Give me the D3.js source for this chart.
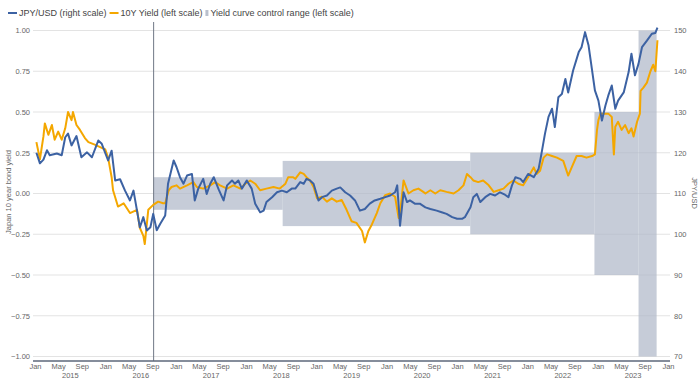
<!DOCTYPE html>
<html>
<head>
<meta charset="utf-8">
<script src="https://cdn.jsdelivr.net/npm/d3@7"></script>
<style>
  body { margin: 0; background: #fff; }
  text { font-family: "Liberation Sans", Arial, sans-serif; }
</style>
</head>
<body>
<div id="chart"></div>
<script>
// JPY/USD, right scale (decimal year, value)
const jpyYears = [2015.02,2015.07,2015.12,2015.17,2015.21,2015.31,2015.38,2015.43,2015.47,2015.52,2015.59,2015.66,2015.74,2015.81,2015.90,2015.95,
  2016.04,2016.09,2016.14,2016.21,2016.28,2016.35,2016.40,2016.45,2016.49,2016.54,2016.59,2016.64,2016.68,2016.73,2016.78,2016.85,2016.89,2016.97,
  2017.01,2017.06,2017.11,2017.16,2017.23,2017.27,2017.32,2017.39,2017.44,2017.49,2017.54,2017.61,2017.68,2017.73,2017.80,2017.84,2017.89,2017.94,
  2018.01,2018.08,2018.13,2018.20,2018.25,2018.29,2018.37,2018.44,2018.51,2018.58,2018.65,2018.70,2018.77,2018.82,2018.86,2018.91,2018.96,
  2019.01,2019.03,2019.08,2019.15,2019.22,2019.29,2019.34,2019.41,2019.48,2019.55,2019.62,2019.69,2019.76,2019.83,2019.91,2019.98,
  2020.05,2020.12,2020.15,2020.19,2020.24,2020.29,2020.33,2020.40,2020.47,2020.55,2020.62,2020.71,2020.78,2020.85,2020.93,
  2021.00,2021.07,2021.11,2021.19,2021.23,2021.28,2021.33,2021.40,2021.47,2021.54,2021.61,2021.68,2021.73,2021.78,2021.83,2021.90,2021.94,
  2022.01,2022.09,2022.16,2022.20,2022.25,2022.30,2022.35,2022.37,2022.39,2022.44,2022.49,2022.54,2022.58,2022.65,2022.73,2022.77,2022.82,2022.87,2022.92,2022.96,
  2023.01,2023.06,2023.11,2023.15,2023.20,2023.25,2023.29,2023.37,2023.44,2023.48,2023.53,2023.58,2023.63,2023.70,2023.77,2023.82,2023.85];
const jpyValues = [120.0,117.4,118.3,120.6,119.4,119.8,119.4,123.8,124.7,121.8,124.1,118.9,120.1,118.9,123.0,122.2,
  118.1,120.5,113.2,113.5,110.7,108.3,110.7,105.8,101.7,104.2,100.9,101.7,105.0,101.0,102.6,104.6,112.4,118.1,
  116.5,114.0,112.4,114.4,114.8,108.3,111.2,113.6,109.9,112.4,114.0,111.0,108.3,112.0,113.2,112.4,113.2,111.2,
  113.2,111.2,107.5,105.4,105.8,107.9,109.1,110.3,110.7,110.3,111.2,111.2,112.8,112.4,113.6,113.2,112.4,
  109.5,108.3,109.1,109.5,110.7,111.2,111.5,110.3,109.5,108.3,105.8,106.2,107.5,108.3,108.7,109.1,
  109.5,110.3,112.0,102.1,110.3,107.9,108.3,107.5,107.5,106.6,106.2,105.8,105.4,105.0,104.2,
  103.8,103.8,104.2,106.6,109.1,109.9,107.9,109.1,109.9,109.5,110.3,109.7,109.1,112.0,114.0,113.6,112.8,
  114.8,114.0,116.1,119.8,124.7,128.8,130.8,128.7,126.3,133.6,134.4,138.1,134.8,140.2,144.7,145.9,149.6,146.3,140.2,135.3,
  132.8,127.9,131.6,134.0,136.5,130.8,132.8,134.8,139.8,144.3,139.0,141.8,145.9,147.5,149.2,149.4,150.7];

// Japan 10Y yield, left scale (decimal year, %)
const yieldYears = [2015.02,2015.07,2015.12,2015.14,2015.19,2015.24,2015.28,2015.33,2015.38,2015.43,2015.47,2015.52,2015.54,2015.59,2015.64,2015.71,2015.76,2015.85,2015.95,
  2016.00,2016.04,2016.09,2016.11,2016.18,2016.26,2016.35,2016.45,2016.49,2016.54,2016.56,2016.61,2016.68,2016.75,2016.82,2016.85,2016.90,2016.94,
  2017.01,2017.06,2017.16,2017.25,2017.30,2017.39,2017.49,2017.56,2017.63,2017.73,2017.82,2017.92,2017.99,
  2018.06,2018.13,2018.20,2018.29,2018.39,2018.48,2018.56,2018.60,2018.67,2018.70,2018.77,2018.82,2018.86,2018.91,2018.96,
  2019.01,2019.08,2019.15,2019.22,2019.29,2019.36,2019.43,2019.50,2019.57,2019.65,2019.69,2019.74,2019.79,2019.86,2019.91,2019.98,
  2020.05,2020.12,2020.17,2020.19,2020.24,2020.31,2020.38,2020.45,2020.52,2020.55,2020.62,2020.69,2020.76,2020.85,2020.95,
  2021.02,2021.09,2021.14,2021.19,2021.23,2021.30,2021.37,2021.45,2021.52,2021.59,2021.66,2021.73,2021.80,2021.87,2021.94,
  2022.01,2022.09,2022.13,2022.18,2022.23,2022.28,2022.35,2022.42,2022.51,2022.58,2022.63,2022.70,2022.77,2022.84,2022.92,2022.96,2022.99,
  2023.01,2023.04,2023.08,2023.15,2023.20,2023.23,2023.25,2023.29,2023.34,2023.39,2023.44,2023.48,2023.51,2023.56,2023.60,2023.61,2023.65,2023.70,2023.75,2023.79,2023.82,2023.85];
const yieldValues = [0.315,0.21,0.35,0.43,0.36,0.42,0.33,0.38,0.33,0.40,0.50,0.45,0.50,0.42,0.39,0.34,0.315,0.30,0.28,
  0.27,0.22,0.10,0.02,-0.08,-0.06,-0.12,-0.10,-0.21,-0.26,-0.31,-0.10,-0.07,-0.05,-0.06,-0.06,0.02,0.04,
  0.05,0.03,0.05,0.07,0.04,0.03,0.05,0.07,0.05,0.03,0.05,0.03,0.06,
  0.08,0.06,0.02,0.03,0.04,0.03,0.06,0.10,0.10,0.09,0.13,0.12,0.10,0.08,0.04,
  -0.03,-0.02,-0.05,-0.03,-0.05,-0.04,-0.10,-0.17,-0.18,-0.23,-0.30,-0.23,-0.19,-0.12,-0.06,-0.01,
  0.00,-0.02,-0.15,-0.12,0.08,0.00,0.02,0.03,0.01,0.00,0.02,0.00,0.02,0.01,0.00,
  0.02,0.05,0.12,0.10,0.08,0.07,0.08,0.05,0.01,0.02,0.03,0.06,0.08,0.06,0.05,
  0.10,0.16,0.12,0.14,0.22,0.24,0.23,0.22,0.20,0.11,0.16,0.23,0.23,0.22,0.23,0.24,0.39,
  0.45,0.49,0.49,0.49,0.47,0.24,0.41,0.44,0.39,0.42,0.37,0.40,0.35,0.44,0.49,0.63,0.65,0.68,0.75,0.79,0.75,0.94];

// Yield curve control bands (+/- half width around zero)
const yccStart = ["2016-09-08", "2018-07-10", "2021-03-10", "2022-12-15", "2023-08-01"];
const yccEnd = ["2018-07-10", "2021-03-10", "2022-12-15", "2023-08-01", "2023-11-03"];
const yccBand = [0.1, 0.2, 0.25, 0.5, 1.0];
const yccIntroduced = "2016-09-08";

const leftTicks = [-1, -0.75, -0.5, -0.25, 0, 0.25, 0.5, 0.75, 1];
const rightTicks = [70, 80, 90, 100, 110, 120, 130, 140, 150];
const yearLabels = [2015, 2016, 2017, 2018, 2019, 2020, 2021, 2022, 2023];

const blue = "#3c62a3", orange = "#f4a700";

function decToDate(t) {
  const y = Math.floor(t);
  const a = Date.UTC(y, 0, 1), b = Date.UTC(y + 1, 0, 1);
  return new Date(a + (t - y) * (b - a));
}

const width = 700, height = 389;
const svg = d3.select("#chart").append("svg")
  .attr("width", width).attr("height", height);

const x = d3.scaleUtc()
  .domain([new Date(Date.UTC(2015, 0, 1)), new Date(Date.UTC(2024, 0, 1))])
  .range([35, 668]);
const yLeft = d3.scaleLinear().domain([-1, 1]).range([356.5, 30.5]);
const yRight = d3.scaleLinear().domain([70, 150]).range([356.5, 30.5]);

const gridLeft = 33, gridRight = 670, axisY = 361;

// gridlines
svg.append("g").selectAll("line").data(leftTicks).enter().append("line")
  .attr("x1", gridLeft).attr("x2", gridRight)
  .attr("y1", d => yLeft(d)).attr("y2", d => yLeft(d))
  .attr("stroke", "#e3e3e3").attr("stroke-width", 1);

// YCC bands
svg.append("g").selectAll("rect").data(yccBand).enter().append("rect")
  .attr("x", (d, i) => x(new Date(yccStart[i])))
  .attr("width", (d, i) => x(new Date(yccEnd[i])) - x(new Date(yccStart[i])))
  .attr("y", d => yLeft(d))
  .attr("height", d => yLeft(-d) - yLeft(d))
  .attr("fill", "#aeb7c7").attr("fill-opacity", 0.7);

// YCC introduction marker
svg.append("line")
  .attr("x1", x(new Date(yccIntroduced))).attr("x2", x(new Date(yccIntroduced)))
  .attr("y1", 22).attr("y2", axisY)
  .attr("stroke", "#6f7785").attr("stroke-width", 1);

// left axis
const leftAxis = svg.append("g")
  .attr("transform", `translate(${gridLeft - 1},0)`)
  .call(d3.axisLeft(yLeft).tickValues(leftTicks).tickFormat(d3.format(".2f")).tickSize(0).tickPadding(2));
leftAxis.select(".domain").remove();
leftAxis.selectAll("text").attr("fill", "#666").attr("font-size", 7.5).attr("font-family", "Liberation Sans, Arial, sans-serif");

// right axis
const rightAxis = svg.append("g")
  .attr("transform", `translate(${gridRight + 1},0)`)
  .call(d3.axisRight(yRight).tickValues(rightTicks).tickSize(0).tickPadding(3));
rightAxis.select(".domain").remove();
rightAxis.selectAll("text").attr("fill", "#666").attr("font-size", 7.5).attr("font-family", "Liberation Sans, Arial, sans-serif");

// bottom axis
const xAxis = svg.append("g")
  .attr("transform", `translate(0,${axisY})`)
  .call(d3.axisBottom(x).ticks(d3.utcMonth.every(4)).tickFormat(d3.utcFormat("%b")).tickSize(0).tickPadding(3));
xAxis.select(".domain").remove();
xAxis.selectAll("text").attr("fill", "#666").attr("font-size", 7.5).attr("font-family", "Liberation Sans, Arial, sans-serif");

const yearAxis = svg.append("g")
  .attr("transform", `translate(0,${axisY})`)
  .call(d3.axisBottom(x).tickValues(yearLabels.map(y => new Date(Date.UTC(y, 6, 1))))
    .tickFormat(d3.utcFormat("%Y")).tickSize(0).tickPadding(12));
yearAxis.select(".domain").remove();
yearAxis.selectAll("text").attr("fill", "#666").attr("font-size", 7.5).attr("font-family", "Liberation Sans, Arial, sans-serif");

svg.append("line")
  .attr("x1", gridLeft).attr("x2", gridRight)
  .attr("y1", axisY).attr("y2", axisY)
  .attr("stroke", "#5d677a").attr("stroke-width", 1.5);

// axis titles
svg.append("text")
  .attr("transform", `translate(11,192) rotate(-90)`)
  .attr("text-anchor", "middle")
  .attr("fill", "#666").attr("font-size", 7.5)
  .text("Japan 10 year bond yield");
svg.append("text")
  .attr("transform", `translate(692,193) rotate(90)`)
  .attr("text-anchor", "middle")
  .attr("fill", "#666").attr("font-size", 7.5)
  .text("JPY/USD");

// series
const yieldLine = d3.line()
  .x((d, i) => x(decToDate(yieldYears[i])))
  .y(d => yLeft(d));
const jpyLine = d3.line()
  .x((d, i) => x(decToDate(jpyYears[i])))
  .y(d => yRight(d));

svg.append("path").datum(yieldValues)
  .attr("d", yieldLine)
  .attr("fill", "none").attr("stroke", orange).attr("stroke-width", 2)
  .attr("stroke-linejoin", "round");
svg.append("path").datum(jpyValues)
  .attr("d", jpyLine)
  .attr("fill", "none").attr("stroke", blue).attr("stroke-width", 2)
  .attr("stroke-linejoin", "round");

// legend
const legend = svg.append("g").attr("transform", "translate(8,13)");
let lx = 0;
const items = [
  { label: "JPY/USD (right scale)", type: "line", color: blue },
  { label: "10Y Yield (left scale)", type: "line", color: orange },
  { label: "Yield curve control range (left scale)", type: "box", color: "#b9c0cd" }
];
items.forEach(it => {
  if (it.type === "line") {
    legend.append("line").attr("x1", lx).attr("x2", lx + 9).attr("y1", 0).attr("y2", 0)
      .attr("stroke", it.color).attr("stroke-width", 2);
    lx += 11;
  } else {
    legend.append("rect").attr("x", lx).attr("y", -3).attr("width", 3).attr("height", 6)
      .attr("fill", it.color);
    lx += 5;
  }
  const t = legend.append("text").attr("x", lx).attr("y", 3.2)
    .attr("fill", "#444").attr("font-size", 9).text(it.label);
  lx += t.node().getComputedTextLength() + 3;
});
</script>
</body>
</html>
